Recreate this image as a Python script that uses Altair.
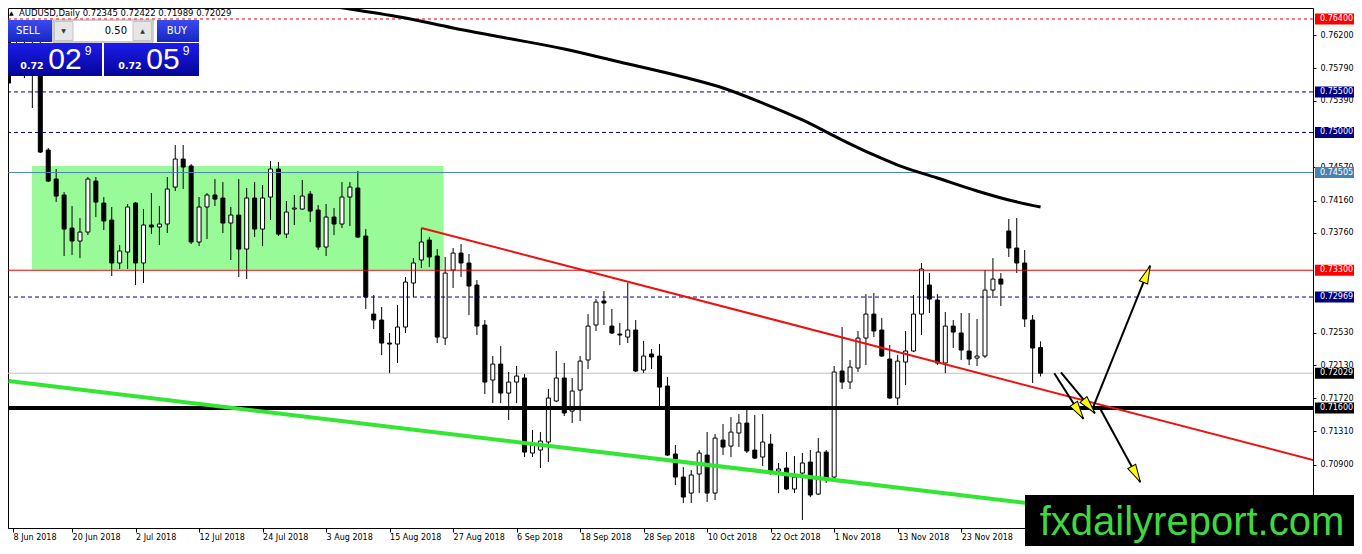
import json
import altair as alt
import pandas as pd

# ---------------- data ----------------
opens = [0.76289, 0.75750, 0.76050, 0.75900, 0.76000, 0.74783, 0.74425, 0.74228, 0.73820, 0.73660,
         0.73771, 0.74400, 0.74129, 0.73919, 0.73389, 0.73524, 0.74129, 0.73389, 0.73858, 0.73833,
         0.73870, 0.74326, 0.74672, 0.74586, 0.73648, 0.74080, 0.74228, 0.74191, 0.73882, 0.73981,
         0.73561, 0.74191, 0.73808, 0.74203, 0.74549, 0.73746, 0.74055, 0.74055, 0.74240, 0.74043,
         0.73586, 0.73956, 0.73870, 0.74203, 0.74314, 0.73722, 0.72759, 0.72685, 0.72401, 0.72389,
         0.72599, 0.73142, 0.73426, 0.73672, 0.73475, 0.72463, 0.73302, 0.73512, 0.73389, 0.73117,
         0.72624, 0.71945, 0.72142, 0.71784, 0.71920, 0.71970, 0.71044, 0.71081, 0.71180, 0.71686,
         0.71970, 0.71562, 0.71821, 0.72192, 0.72624, 0.72920, 0.72611, 0.72512, 0.72475, 0.72562,
         0.72068, 0.72266, 0.72241, 0.71871, 0.71032, 0.70748, 0.70550, 0.70785, 0.71019, 0.70550,
         0.71204, 0.71130, 0.71291, 0.71414, 0.71081, 0.70995, 0.71155, 0.70822, 0.70859, 0.70600,
         0.70797, 0.70933, 0.70538, 0.71056, 0.70748, 0.72056, 0.71920, 0.72093, 0.72463, 0.72759,
         0.72562, 0.72204, 0.71723, 0.72167, 0.72303, 0.72759, 0.73117, 0.72932, 0.72155, 0.72611,
         0.72525, 0.72303, 0.72216, 0.72241, 0.73055, 0.73191, 0.73784, 0.73574, 0.73389, 0.72685,
         0.72345]
highs = [0.76338, 0.76120, 0.76250, 0.76200, 0.76120, 0.74808, 0.74549, 0.74265, 0.74092, 0.73944,
         0.74450, 0.74450, 0.74203, 0.74080, 0.73611, 0.74117, 0.74141, 0.74055, 0.74252, 0.74092,
         0.74450, 0.74845, 0.74845, 0.74610, 0.74203, 0.74252, 0.74425, 0.74388, 0.74080, 0.74425,
         0.74314, 0.74388, 0.74351, 0.74647, 0.74635, 0.74154, 0.74228, 0.74413, 0.74277, 0.74104,
         0.74117, 0.74067, 0.74388, 0.74388, 0.74524, 0.73808, 0.72994, 0.72846, 0.72525, 0.72870,
         0.73216, 0.73450, 0.73820, 0.73709, 0.73561, 0.73463, 0.73574, 0.73623, 0.73500, 0.73179,
         0.72685, 0.72241, 0.72364, 0.72044, 0.72118, 0.72019, 0.71328, 0.71303, 0.71834, 0.72303,
         0.72155, 0.71970, 0.72241, 0.72759, 0.72944, 0.73043, 0.72821, 0.72648, 0.73142, 0.72685,
         0.72426, 0.72327, 0.72389, 0.71982, 0.71143, 0.70871, 0.70834, 0.71081, 0.71303, 0.71278,
         0.71402, 0.71488, 0.71525, 0.71575, 0.71513, 0.71525, 0.71278, 0.70921, 0.71056, 0.71007,
         0.71044, 0.71081, 0.71229, 0.71081, 0.72118, 0.72599, 0.72192, 0.72550, 0.73006, 0.73018,
         0.72710, 0.72377, 0.72253, 0.72550, 0.72994, 0.73389, 0.73265, 0.73006, 0.72784, 0.72685,
         0.72772, 0.72772, 0.72698, 0.73302, 0.73450, 0.73265, 0.73932, 0.73944, 0.73549, 0.72747,
         0.72422]
lows = [0.75585, 0.75720, 0.75670, 0.75301, 0.74746, 0.74388, 0.74141, 0.73475, 0.73487, 0.73450,
        0.73734, 0.73956, 0.73796, 0.73228, 0.73315, 0.73315, 0.73117, 0.73142, 0.73746, 0.73611,
        0.73759, 0.74277, 0.74302, 0.73623, 0.73598, 0.73685, 0.74092, 0.73759, 0.73426, 0.73216,
        0.73191, 0.73709, 0.73598, 0.73919, 0.73722, 0.73697, 0.73858, 0.74043, 0.73895, 0.73549,
        0.73475, 0.73734, 0.73820, 0.73845, 0.73700, 0.72821, 0.72574, 0.72253, 0.72031, 0.72155,
        0.72525, 0.72969, 0.73327, 0.73339, 0.72401, 0.72377, 0.73080, 0.73216, 0.72747, 0.72500,
        0.71772, 0.71661, 0.71661, 0.71451, 0.71661, 0.70995, 0.70995, 0.70859, 0.70933, 0.71673,
        0.71501, 0.71414, 0.71439, 0.72081, 0.72550, 0.72624, 0.72512, 0.72377, 0.72401, 0.72044,
        0.72031, 0.72081, 0.71612, 0.71007, 0.70649, 0.70427, 0.70427, 0.70550, 0.70439, 0.70464,
        0.71019, 0.70995, 0.71118, 0.71044, 0.70970, 0.70884, 0.70773, 0.70550, 0.70587, 0.70550,
        0.70217, 0.70501, 0.70526, 0.70674, 0.70736, 0.71834, 0.71834, 0.72044, 0.72130, 0.72475,
        0.72230, 0.71710, 0.71636, 0.71883, 0.72290, 0.72500, 0.72772, 0.72130, 0.72031, 0.72340,
        0.72192, 0.72130, 0.72118, 0.72216, 0.72957, 0.72858, 0.73463, 0.73265, 0.72599, 0.71908,
        0.71989]
closes = [0.75610, 0.76050, 0.75900, 0.76000, 0.74758, 0.74400, 0.74215, 0.73808, 0.73660, 0.73771,
          0.74425, 0.74141, 0.73907, 0.73389, 0.73537, 0.74080, 0.73389, 0.73858, 0.73833, 0.73870,
          0.74302, 0.74672, 0.74573, 0.73648, 0.74080, 0.74228, 0.74178, 0.73882, 0.73981, 0.73561,
          0.74191, 0.73808, 0.74191, 0.74549, 0.73746, 0.74018, 0.74067, 0.74215, 0.74030, 0.73586,
          0.73956, 0.73870, 0.74203, 0.74326, 0.73709, 0.72969, 0.72685, 0.72401, 0.72389, 0.72599,
          0.73154, 0.73389, 0.73648, 0.73463, 0.72475, 0.73265, 0.73512, 0.73389, 0.73105, 0.72611,
          0.71920, 0.72142, 0.71784, 0.71920, 0.71994, 0.71056, 0.71143, 0.71192, 0.71723, 0.71970,
          0.71538, 0.71809, 0.72179, 0.72611, 0.72907, 0.72895, 0.72525, 0.72500, 0.72562, 0.72056,
          0.72241, 0.72229, 0.71858, 0.71019, 0.70748, 0.70501, 0.70773, 0.71044, 0.70550, 0.71229,
          0.71118, 0.71303, 0.71414, 0.71069, 0.70982, 0.71180, 0.70810, 0.70847, 0.70600, 0.70748,
          0.70921, 0.70526, 0.71056, 0.70736, 0.72044, 0.71920, 0.72105, 0.72463, 0.72759, 0.72550,
          0.72241, 0.71723, 0.72179, 0.72303, 0.72759, 0.73315, 0.72944, 0.72155, 0.72611, 0.72537,
          0.72315, 0.72204, 0.72241, 0.73055, 0.73191, 0.73129, 0.73574, 0.73389, 0.72698, 0.72340,
          0.72029]

date_labels = ["8 Jun 2018", "20 Jun 2018", "2 Jul 2018", "12 Jul 2018", "24 Jul 2018", "3 Aug 2018",
               "15 Aug 2018", "27 Aug 2018", "6 Sep 2018", "18 Sep 2018", "28 Sep 2018", "10 Oct 2018",
               "22 Oct 2018", "1 Nov 2018", "13 Nov 2018", "23 Nov 2018"]
date_label_bars = [0, 8, 16, 24, 32, 40, 48, 56, 64, 72, 80, 88, 96, 104, 112, 120]

# scale ticks that remain visible (the others sit fully under tags / the watermark)
price_ticks = [0.76200, 0.75790, 0.75390, 0.74570, 0.74160, 0.73760,
               0.72530, 0.72130, 0.71720, 0.71310, 0.70900]

level_prices = [0.76400, 0.75500, 0.75000, 0.74505, 0.73300, 0.72969, 0.72029, 0.71600]
level_kinds = ["red_dash", "navy_dash", "navy_dash", "blue", "red", "navy_dash", "bid", "support"]

ma_bars = [35, 43, 50, 56, 62, 70, 77, 85, 90, 95, 100, 105, 109, 112, 117, 122, 126, 130]
ma_prices = [0.76634, 0.76523, 0.76412, 0.76289, 0.76178, 0.76030, 0.75869, 0.75684, 0.75549,
             0.75363, 0.75154, 0.74907, 0.74722, 0.74598, 0.74438, 0.74278, 0.74167, 0.74080]

zone_bars = [2.94, 54.8]
zone_prices = [0.74586, 0.73310]

resistance_bars = [52, 164.4]
resistance_prices = [0.73821, 0.70957]

channel_bars = [0, 140]
channel_prices = [0.71933, 0.70288]

arrow_from_bars = [131.73, 132.56, 136.65, 137.48]
arrow_from_prices = [0.72028, 0.72040, 0.71616, 0.71596]
arrow_to_bars = [135.40, 136.85, 143.81, 142.56]
arrow_to_prices = [0.71464, 0.71534, 0.73356, 0.70683]
arrow_head_bars = [134.79, 136.13, 143.39, 142.03]
arrow_head_prices = [0.71558, 0.71620, 0.73253, 0.70781]

symbol = "AUDUSD,Daily"
bid_parts = ["0.72", "02", "9"]
ask_parts = ["0.72", "05", "9"]
lot_text = "0.50"
watermark_text = "fxdailyreport.com"

# ---------------- styles / layout ----------------
arrow_angles = [147.2, 140.1, 22.1, 151.2]
W, H = 1305, 520
PAD_R, PAD_B = 41, 18
FONT = "DejaVu Sans"
xs = alt.Scale(domain=[0.5625, 163.6875], nice=False, zero=False)
ys = alt.Scale(domain=[0.701191, 0.765357], nice=False, zero=False)

styles = {
    "red_dash": dict(color="#ee0000", dash=[3, 3], width=1, bg="#ff0000", fg="white"),
    "navy_dash": dict(color="#000080", dash=[4, 3], width=1, bg="#000080", fg="white"),
    "blue": dict(color="#4682b4", dash=None, width=1, bg="#4682b4", fg="white"),
    "red": dict(color="#e00000", dash=None, width=1, bg="#ff0000", fg="white"),
    "bid": dict(color="#c0c0c0", dash=None, width=1, bg="#000000", fg="white"),
    "support": dict(color="#000000", dash=None, width=4, bg="#000000", fg="white"),
}

x_tick_values = [xs.domain[0]] + date_label_bars[1:]
x_label_expr = json.dumps(date_labels) + "[round(datum.value / 8)]"

XAXIS = alt.Axis(
    values=x_tick_values, labelExpr=x_label_expr, orient="bottom", grid=False,
    domainColor="black", tickColor="black", tickSize=4, labelAlign="left",
    labelBaseline="top", labelPadding=1, labelFont=FONT, labelFontSize=8,
    labelColor="black", labelFlush=False, labelOverlap=False, labelBound=False, title=None)
YAXIS = alt.Axis(
    values=price_ticks, format=".5f", orient="right", grid=False,
    domainColor="black", tickColor="black", tickSize=3, labelPadding=4,
    labelFont=FONT, labelFontSize=8, labelColor="black", labelAlign="left",
    labelBaseline="middle", labelFlush=False, labelOverlap=False, title=None)


def X(f):
    return alt.X(f, type="quantitative", scale=xs, axis=XAXIS)


def Y(f):
    return alt.Y(f, type="quantitative", scale=ys, axis=YAXIS)


one = pd.DataFrame({"k": [0]})

# ---------------- tables ----------------
n = len(opens)
candles = pd.DataFrame({"bar": list(range(n)), "open": opens, "high": highs,
                        "low": lows, "close": closes})
candles["fill"] = ["white" if c >= o else "black" for o, c in zip(opens, closes)]

levels = pd.DataFrame({"price": level_prices, "kind": level_kinds})
levels["bg"] = [styles[k]["bg"] for k in level_kinds]
levels["fg"] = [styles[k]["fg"] for k in level_kinds]

zone = pd.DataFrame({"x1": [zone_bars[0]], "x2": [zone_bars[1]],
                     "y1": [zone_prices[0]], "y2": [zone_prices[1]]})
ma = pd.DataFrame({"bar": ma_bars, "price": ma_prices})
res = pd.DataFrame({"bar": resistance_bars, "price": resistance_prices})
chan = pd.DataFrame({"bar": channel_bars, "price": channel_prices})
arrows = pd.DataFrame({"x1": arrow_from_bars, "y1": arrow_from_prices,
                       "x2": arrow_to_bars, "y2": arrow_to_prices})
heads = pd.DataFrame({"bar": arrow_head_bars, "price": arrow_head_prices, "ang": arrow_angles})

# ---------------- layers ----------------
layers = []

# zone
layers.append(alt.Chart(zone).mark_rect(color="#98fb98").encode(
    x=X("x1"), x2="x2", y=Y("y1"), y2="y2"))

# bid line below candles
layers.append(alt.Chart(levels[levels.kind == "bid"]).mark_rule(
    color=styles["bid"]["color"], strokeWidth=1).encode(y=Y("price")))

# candles
layers.append(alt.Chart(candles).mark_rule(color="black", strokeWidth=1, clip=True).encode(
    x=X("bar"), y=Y("low"), y2="high"))
layers.append(alt.Chart(candles).mark_bar(width=4, stroke="black", strokeWidth=1,
                                          clip=True).encode(
    x=X("bar"), y=Y("open"), y2="close", fill=alt.Fill("fill:N", scale=None)))

# horizontal levels on top of candles
for kind in ["red_dash", "navy_dash", "blue", "red", "support"]:
    st = styles[kind]
    kw = dict(color=st["color"], strokeWidth=st["width"])
    if st["dash"]:
        kw["strokeDash"] = st["dash"]
    layers.append(alt.Chart(levels[levels.kind == kind]).mark_rule(**kw).encode(y=Y("price")))

# moving average
layers.append(alt.Chart(ma).mark_line(color="black", strokeWidth=3, interpolate="monotone",
                                      clip=True).encode(x=X("bar"), y=Y("price")))
# trend lines
layers.append(alt.Chart(chan).mark_line(color="#33e633", strokeWidth=4, clip=True).encode(
    x=X("bar"), y=Y("price")))
layers.append(alt.Chart(res).mark_line(color="#ee1111", strokeWidth=2, clip=True).encode(
    x=X("bar"), y=Y("price")))

# arrows
layers.append(alt.Chart(arrows).mark_rule(color="black", strokeWidth=2).encode(
    x=X("x1"), x2="x2", y=Y("y1"), y2="y2"))
layers.append(alt.Chart(heads).mark_point(
    shape="M0,-1L0.5,1L-0.5,1Z", size=324, filled=True, fill="#ffff00", stroke="black",
    strokeWidth=1, opacity=1).encode(
    x=X("bar"), y=Y("price"), angle=alt.Angle("ang:Q", scale=None)))

# price labels on the right axis
layers.append(alt.Chart(levels).mark_tick(orient="horizontal", thickness=11, opacity=1).encode(
    x=alt.value(W + 21.5), y=Y("price"), size=alt.value(39),
    color=alt.Color("bg:N", scale=None)))
layers.append(alt.Chart(levels).mark_text(align="left", baseline="middle", font=FONT,
                                          fontSize=8).encode(
    x=alt.value(W + 7), y=Y("price"), text=alt.Text("price:Q", format=".5f"),
    color=alt.Color("fg:N", scale=None)))

# header
header = f"{symbol}  {opens[-1]:.5f} {highs[-1]:.5f} {lows[-1]:.5f} {closes[-1]:.5f}"
layers.append(alt.Chart(one).mark_text(text="▲", font=FONT, fontSize=6, color="black",
                                       align="left", baseline="middle").encode(
    x=alt.value(1), y=alt.value(5)))
layers.append(alt.Chart(one).mark_text(text=header, font=FONT, fontSize=8.5, color="black",
                                       align="left", baseline="middle").encode(
    x=alt.value(11), y=alt.value(5)))

# trade panel
btn_grad = alt.Gradient(gradient="linear", x1=0, x2=0, y1=0, y2=1, stops=[
    alt.GradientStop(color="#3a4cf0", offset=0), alt.GradientStop(color="#1526c2", offset=1)])
price_grad = alt.Gradient(gradient="linear", x1=0, x2=0, y1=0, y2=1, stops=[
    alt.GradientStop(color="#1c1cec", offset=0), alt.GradientStop(color="#05059a", offset=1)])


def box(x0, x1, y0, y1, **kw):
    return alt.Chart(one).mark_rect(**kw).encode(
        x=alt.value(x0), x2=alt.value(x1), y=alt.value(y0), y2=alt.value(y1))


def label(txt, x, y, **kw):
    return alt.Chart(one).mark_text(text=txt, baseline="middle", **kw).encode(
        x=alt.value(x), y=alt.value(y))


layers += [
    box(0, 44, 12, 34, fill=btn_grad),
    box(149, 191, 12, 34, fill=btn_grad),
    box(45, 145, 12, 34, fill="white", stroke="#9a9a9a", strokeWidth=1),
    box(46.5, 65, 13.5, 32.5, fill="#e6e6e6", stroke="#c4c4c4", strokeWidth=1),
    box(125, 143.5, 13.5, 32.5, fill="#e6e6e6", stroke="#c4c4c4", strokeWidth=1),
    box(0, 94, 35, 68, fill=price_grad),
    box(96, 191, 35, 68, fill=price_grad),
    label("SELL", 20, 23, align="center", font=FONT, fontSize=10, color="white"),
    label("BUY", 169, 23, align="center", font=FONT, fontSize=10, color="white"),
    label("▼", 55.5, 23, align="center", font=FONT, fontSize=6, color="#333333"),
    label("▲", 134.5, 23, align="center", font=FONT, fontSize=6, color="#333333"),
    label(lot_text, 119, 23, align="right", font=FONT, fontSize=10, color="black"),
    label(bid_parts[0], 24, 58, align="center", font=FONT, fontSize=9.5, fontWeight="bold",
          color="white"),
    label(bid_parts[1], 57, 52, align="center", font="Liberation Sans", fontSize=30,
          color="white"),
    label(bid_parts[2], 80, 43, align="center", font="Liberation Sans", fontSize=12,
          color="white"),
    label(ask_parts[0], 122, 58, align="center", font=FONT, fontSize=9.5, fontWeight="bold",
          color="white"),
    label(ask_parts[1], 155, 52, align="center", font="Liberation Sans", fontSize=30,
          color="white"),
    label(ask_parts[2], 178, 43, align="center", font="Liberation Sans", fontSize=12,
          color="white"),
]

# watermark
layers.append(box(1017, W + PAD_R, 487, H + PAD_B, fill="black"))
layers.append(alt.Chart(one).mark_text(text=watermark_text, font="Liberation Sans", fontSize=40,
                                       color="#3fd83f", align="center",
                                       baseline="alphabetic").encode(
    x=alt.value(1184), y=alt.value(527)))

chart = alt.layer(*layers).properties(
    width=W, height=H,
    autosize=alt.AutoSizeParams(type="none"),
    padding={"left": 0, "top": 0, "right": PAD_R, "bottom": PAD_B},
    background="white",
).configure_view(stroke="black", strokeWidth=1)

chart.save("out.html", embed_options={"renderer": "svg", "actions": False})
